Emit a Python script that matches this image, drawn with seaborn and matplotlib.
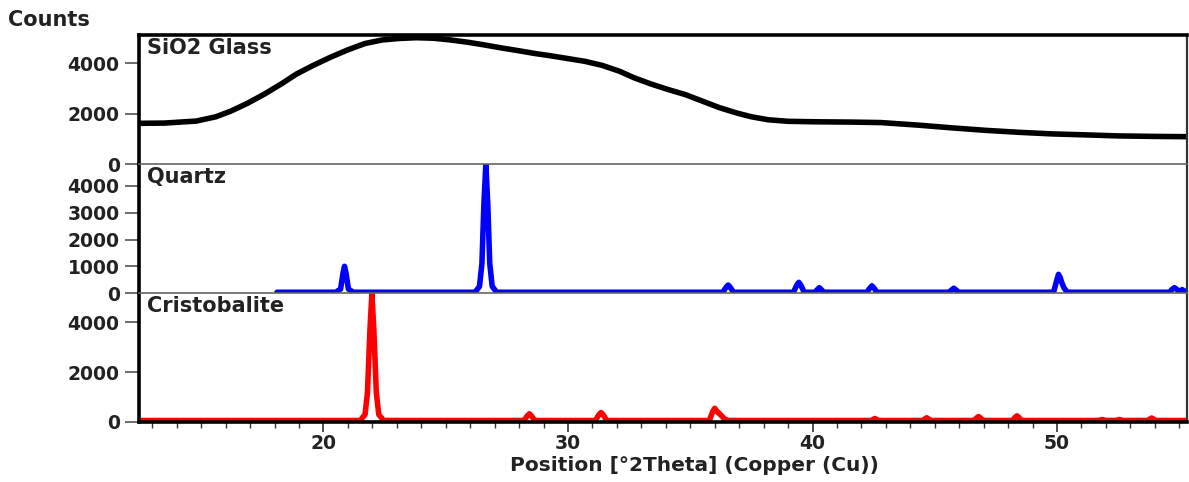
import matplotlib
matplotlib.use("Agg")
import matplotlib.pyplot as plt
import seaborn as sns
from matplotlib.ticker import MultipleLocator

sns.set_theme(style="ticks")
plt.rcParams['font.family'] = ['DejaVu Sans']

# SiO2 glass (broad amorphous hump)
glass_x = [12.46, 13.5, 14.8, 15.6, 16.2, 16.9, 17.6, 18.3, 18.9, 19.6,
           20.3, 21.0, 21.7, 22.4, 23.1, 23.8, 24.5, 25.2, 25.9, 26.6,
           27.3, 28.0, 28.6, 29.3, 30.0, 30.7, 31.4, 32.1, 32.7, 33.4,
           34.1, 34.8, 35.5, 36.2, 36.9, 37.5, 38.2, 39.0, 40.2, 41.5,
           42.8, 44.3, 45.7, 47.1, 48.5, 49.8, 51.2, 52.5, 54.0, 55.3]
glass_y = [1620, 1630, 1710, 1880, 2100, 2420, 2790, 3200, 3580, 3930,
           4250, 4540, 4790, 4930, 4990, 5020, 5000, 4930, 4840, 4730,
           4610, 4500, 4400, 4300, 4190, 4080, 3920, 3690, 3430, 3180,
           2960, 2760, 2500, 2240, 2030, 1880, 1760, 1700, 1680, 1670,
           1650, 1550, 1440, 1340, 1260, 1200, 1160, 1120, 1100, 1090]

# Quartz pattern
quartz_x = [18.1, 20.5, 20.7, 20.8, 20.86, 20.92, 21.02, 21.22,
            26.2, 26.38, 26.48, 26.56, 26.64, 26.72, 26.8, 26.9, 27.08,
            36.33, 36.47, 36.55, 36.63, 36.77,
            39.22, 39.36, 39.44, 39.52, 39.66,
            40.1, 40.22, 40.28, 40.34, 40.46,
            42.22, 42.36, 42.43, 42.5, 42.64,
            45.58, 45.71, 45.78, 45.85, 45.98,
            49.86, 49.98, 50.06, 50.12, 50.2, 50.28, 50.42,
            54.6, 54.72, 54.8, 54.88, 55.0, 55.12, 55.22, 55.3]
quartz_y = [30, 30, 150, 750, 1000, 750, 150, 30,
            30, 250, 1100, 3300, 4800, 3300, 1100, 250, 30,
            30, 220, 300, 220, 30,
            30, 300, 400, 300, 30,
            30, 150, 200, 150, 30,
            30, 200, 270, 200, 30,
            30, 130, 180, 130, 30,
            30, 450, 700, 600, 380, 200, 30,
            30, 150, 200, 150, 60, 130, 60, 60]

# Cristobalite pattern
cristo_x = [12.46, 21.5, 21.7, 21.8, 21.9, 21.98, 22.06, 22.16, 22.26, 22.46,
            28.2, 28.34, 28.42, 28.5, 28.64,
            31.12, 31.26, 31.35, 31.44, 31.58,
            35.78, 35.92, 36.0, 36.1, 36.28, 36.4, 36.55,
            42.4, 42.55, 42.7,
            44.5, 44.67, 44.84,
            46.6, 46.72, 46.79, 46.86, 46.98,
            48.17, 48.29, 48.36, 48.43, 48.55,
            51.7, 51.85, 52.0, 52.4, 52.55, 52.7,
            53.7, 53.87, 54.04, 55.3]
cristo_y = [60, 60, 300, 1200, 3700, 5150, 3700, 1200, 300, 60,
            60, 250, 330, 250, 60,
            60, 290, 380, 290, 60,
            60, 420, 550, 420, 250, 120, 60,
            60, 140, 60,
            60, 170, 60,
            60, 170, 220, 170, 60,
            60, 190, 245, 190, 60,
            60, 100, 60, 60, 100, 60,
            60, 160, 60, 60]

panels = [
    ("SiO2 Glass", glass_x, glass_y, "black", 5120, [0, 2000, 4000]),
    ("Quartz", quartz_x, quartz_y, "#0000ff", 4815, [0, 1000, 2000, 3000, 4000]),
    ("Cristobalite", cristo_x, cristo_y, "#ff0000", 5180, [0, 2000, 4000]),
]

FS = 13.5
LABEL_FS = 15

fig, axes = plt.subplots(3, 1, sharex=True, figsize=(11.89, 4.82), dpi=100,
                         gridspec_kw={"hspace": 0})
fig.subplots_adjust(left=0.117, right=0.998, top=0.927, bottom=0.1245)

for i, (ax, (name, xs, ys, col, ymax, yticks)) in enumerate(zip(axes, panels)):
    sns.lineplot(x=xs, y=ys, ax=ax, color=col, linewidth=4.0, sort=False,
                 solid_joinstyle="round", solid_capstyle="round")
    ax.set_ylim(0, ymax)
    ax.set_yticks(yticks)
    ax.set_yticklabels([str(t) for t in yticks], fontsize=FS, fontweight="bold",
                       color="#222222")
    ax.tick_params(axis="y", length=10, width=1.2, color="#555555", pad=4)
    ax.set_ylabel("")
    ax.text(0.0075, 0.975, name, transform=ax.transAxes, ha="left", va="top",
            fontsize=LABEL_FS, fontweight="bold", color="#222222")
    ax.spines["left"].set_linewidth(2.6)
    ax.spines["left"].set_color("black")
    ax.spines["right"].set_linewidth(1.6)
    ax.spines["right"].set_color("#333333")
    if i == 0:
        ax.spines["top"].set_linewidth(2.6)
        ax.spines["top"].set_color("black")
    else:
        ax.spines["top"].set_linewidth(1.2)
        ax.spines["top"].set_color("#666666")
    if i < 2:
        ax.spines["bottom"].set_visible(False)
        ax.tick_params(axis="x", which="both", bottom=False)
    else:
        ax.spines["bottom"].set_linewidth(2.6)
        ax.spines["bottom"].set_color("black")

ax = axes[-1]
ax.set_xlim(12.46, 55.3)
ax.xaxis.set_major_locator(MultipleLocator(10))
ax.xaxis.set_minor_locator(MultipleLocator(1))
ax.tick_params(axis="x", which="major", length=7, width=1.2, color="#333333",
               labelsize=FS, labelcolor="#222222", pad=2)
ax.tick_params(axis="x", which="minor", length=4, width=1.0, color="#333333")
for lab in ax.get_xticklabels():
    lab.set_fontweight("bold")
ax.set_xlabel("Position [°2Theta] (Copper (Cu))", fontsize=14.5,
              fontweight="bold", color="#222222", labelpad=2)
ax.xaxis.label.set_x(0.53)

fig.text(0.007, 0.958, "Counts", ha="left", va="center", fontsize=LABEL_FS,
         fontweight="bold", color="#222222")

fig.savefig("out.png", dpi=100)
